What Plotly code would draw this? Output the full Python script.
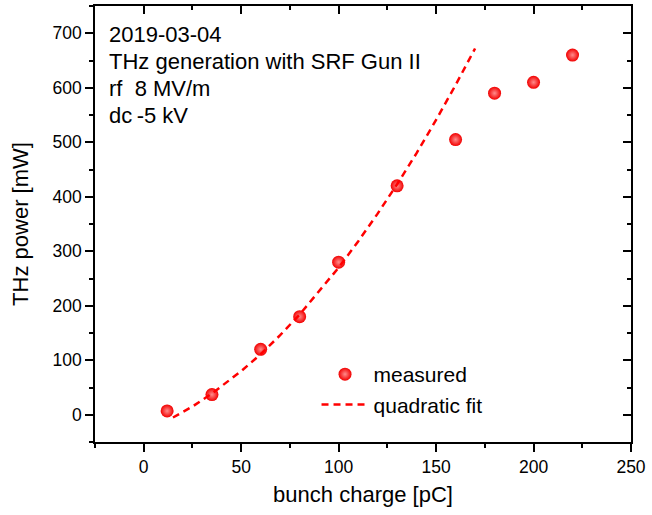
import plotly.graph_objects as go

# measured data
charge_meas = [12, 35, 60, 80, 100, 130, 160, 180, 200, 220]
power_meas = [7, 37, 120, 180, 280, 420, 505, 590, 610, 660]

# quadratic fit curve
charge_fit = [15, 25, 35, 50, 60, 70, 80, 90, 100, 110, 120, 130, 140, 150, 160, 170]
power_fit = [-5, 15, 39, 80, 111, 146, 184, 226, 270, 318, 369, 423, 480, 541, 605, 672]

info_lines = ["2019-03-04", "THz generation with SRF Gun II", "rf\u00a0\u00a08 MV/m", "dc\u2009-5 kV"]

FONT = "Liberation Sans, Arial, sans-serif"
RED = "#ff0000"

fig = go.Figure()
fig.add_trace(go.Scatter(
    x=charge_meas, y=power_meas, mode="markers", name="measured",
    marker=dict(size=13, color="#f20000", line=dict(width=0),
                gradient=dict(type="radial", color="#ff8c8c")),
))
fig.add_trace(go.Scatter(
    x=charge_fit, y=power_fit, mode="lines", name="quadratic fit",
    line=dict(color=RED, width=2.5, dash="7px,5px"),
))
fig.add_trace(go.Scatter(x=[], y=[], xaxis="x2", yaxis="y2", showlegend=False, hoverinfo="skip"))

axis_common = dict(showgrid=False, zeroline=False, showline=True, linecolor="black", linewidth=1.6,
                   tickcolor="black", tickwidth=1.6, ticklen=8)

fig.update_layout(
    width=652, height=515,
    margin=dict(l=95, r=15, t=6, b=73),
    plot_bgcolor="white", paper_bgcolor="white",
    font=dict(family=FONT, color="black"),
    xaxis=dict(range=[-25, 250], tick0=0, dtick=50, ticks="outside",
               minor=dict(dtick=25, tick0=0, ticks="outside", ticklen=4, tickwidth=1.6, tickcolor="black"),
               tickfont=dict(size=17.5, family=FONT),
               title=dict(text="bunch charge [pC]", font=dict(size=22, family=FONT), standoff=11),
               **axis_common),
    yaxis=dict(range=[-50, 750], tick0=0, dtick=100, ticks="outside",
               minor=dict(dtick=50, tick0=0, ticks="outside", ticklen=4, tickwidth=1.6, tickcolor="black"),
               tickfont=dict(size=17.5, family=FONT),
               title=dict(text="THz power [mW]", font=dict(size=22, family=FONT), standoff=18),
               **axis_common),
    xaxis2=dict(range=[-25, 250], overlaying="x", side="top", anchor="y2", tick0=0, dtick=50,
                ticks="inside", showticklabels=False,
                minor=dict(dtick=25, tick0=0, ticks="inside", ticklen=4, tickwidth=1.6, tickcolor="black"),
                **axis_common),
    yaxis2=dict(range=[-50, 750], overlaying="y", side="right", anchor="x2", tick0=0, dtick=100,
                ticks="inside", showticklabels=False,
                minor=dict(dtick=50, tick0=0, ticks="inside", ticklen=4, tickwidth=1.6, tickcolor="black"),
                **axis_common),
    legend=dict(x=(319 - 95) / 542, y=1 - (354 - 6) / 436, xanchor="left", yanchor="top",
                bgcolor="rgba(0,0,0,0)", font=dict(size=21, family=FONT), itemwidth=47,
                tracegroupgap=0),
    showlegend=True,
)

for i, line in enumerate(info_lines):
    fig.add_annotation(
        text=line, xref="paper", yref="paper",
        x=(107 - 95) / 542, y=1 - (20 + 27 * i - 6) / 436,
        xanchor="left", yanchor="top", showarrow=False,
        font=dict(size=22, family=FONT, color="black"),
    )

fig.write_html("out.html")
